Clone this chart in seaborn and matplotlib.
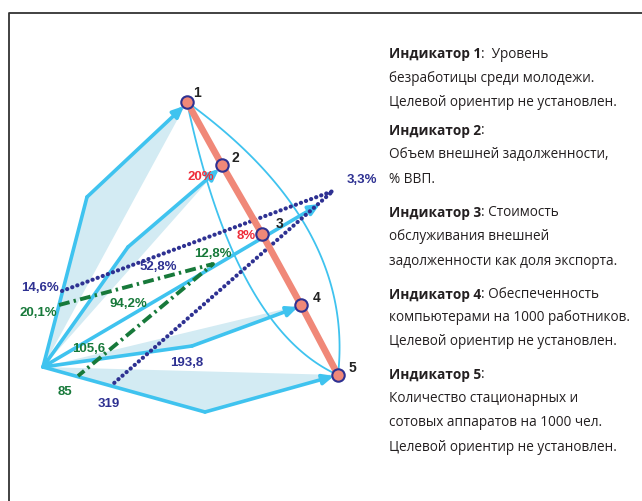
import numpy as np
import pandas as pd
import matplotlib
matplotlib.use("Agg")
import matplotlib.pyplot as plt
import seaborn as sns

# indicator points on the scheme (chart units, y grows downward)
ind_names = ["1", "2", "3", "4", "5"]
ind_x = [187, 222, 262, 301, 338]
ind_y = [103, 166, 235, 306, 376]
name_dx = [10, 13, 18, 16, 14]
name_dy = [-10, -8, -11, -8, -8]

# origin of the vectors and the bends of each vector
origin = (43, 368)
bend_x = [87, 128, None, 192, 205]
bend_y = [198, 248, None, 347, 413]
tip_x = [184, 219, 320, 298, 334]
tip_y = [107, 170, 205, 308, 377]

# dotted navy series and dash-dot green series
navy_x = [62, 333, 113]
navy_y = [292, 192, 385]
green_x = [59, 213, 78]
green_y = [306, 265, 377]

# value labels: text, x, y, colour key
val_text = ["20%", "8%", "3,3%", "52,8%", "12,8%", "14,6%", "20,1%",
            "94,2%", "105,6", "193,8", "85", "319"]
val_x = [201, 246, 362, 158, 213, 40, 38, 128, 89, 187, 65, 109]
val_y = [177, 236, 180, 267, 254, 288, 313, 304, 349, 363, 392, 404]
val_col = ["red", "red", "navy", "navy", "green", "navy", "green",
           "green", "green", "navy", "green", "navy"]

legend_lines = [
    ("Индикатор 1", ":  Уровень", 54),
    ("", "безработицы среди молодежи.", 78),
    ("", "Целевой ориентир не установлен.", 102),
    ("Индикатор 2", ":", 131),
    ("", "Объем внешней задолженности,", 155),
    ("", "% ВВП.", 180),
    ("Индикатор 3", ": Стоимость", 213),
    ("", "обслуживания внешней", 237),
    ("", "задолженности как доля экспорта.", 262),
    ("Индикатор 4", ": Обеспеченность", 295),
    ("", "компьютерами на 1000 работников.", 318),
    ("", "Целевой ориентир не установлен.", 342),
    ("Индикатор 5", ":", 375),
    ("", "Количество стационарных и", 399),
    ("", "сотовых аппаратов на 1000 чел.", 423),
    ("", "Целевой ориентир не установлен.", 448),
]

sns.set_theme(style="white")
plt.rcParams["font.family"] = ["Liberation Sans", "DejaVu Sans"]

BLUE = "#3fc3ef"
SHADE = "#d3ebf3"
SALMON = "#f08878"
NAVY = "#2e3192"
GREEN = "#17793a"
colours = {"red": "#ee2d3a", "navy": NAVY, "green": GREEN}

fig = plt.figure(figsize=(6.42, 5.02), dpi=100)
ax = fig.add_axes([0, 0, 1, 1])

# frame (only left and top visible)
ax.plot([8.5, 8.5, 642], [502, 13.5, 13.5], color="#333333", lw=1.3)

# shaded triangles under the bent vectors
for i in range(5):
    if bend_x[i] is None:
        continue
    ax.fill([origin[0], bend_x[i], ind_x[i]], [origin[1], bend_y[i], ind_y[i]],
            color=SHADE, lw=0, zorder=1)

# thin lens curves from 1 to 5 (quadratic Bezier)
t = np.linspace(0, 1, 100)
p1 = np.array([ind_x[0], ind_y[0]])
p5 = np.array([ind_x[4], ind_y[4]])
for ctrl in [(235, 330), (355, 225)]:
    c = np.array(ctrl)
    pts = np.outer((1 - t) ** 2, p1) + np.outer(2 * t * (1 - t), c) + np.outer(t ** 2, p5)
    ax.plot(pts[:, 0], pts[:, 1], color=BLUE, lw=1.3, zorder=2)

# vectors
for i in range(5):
    if bend_x[i] is None:
        start = origin
    else:
        ax.plot([origin[0], bend_x[i]], [origin[1], bend_y[i]], color=BLUE,
                lw=2.6, solid_capstyle="round", zorder=3)
        start = (bend_x[i], bend_y[i])
    ax.annotate("", xy=(tip_x[i], tip_y[i]), xytext=start,
                arrowprops=dict(arrowstyle="-|>,head_length=0.55,head_width=0.25",
                                color=BLUE, lw=2.6, shrinkA=0, shrinkB=0),
                zorder=3)

# navy dotted and green dash-dot series
ax.plot(navy_x, navy_y, color=NAVY, lw=3.0, linestyle=(0, (0.05, 1.25)),
        dash_capstyle="round", zorder=4)
ax.plot(green_x, green_y, color=GREEN, lw=2.8, linestyle=(0, (2.8, 1.1, 0.6, 1.1)),
        zorder=4)

# salmon line through the indicators
df = pd.DataFrame({"x": ind_x, "y": ind_y, "name": ind_names})
sns.lineplot(data=df, x="x", y="y", sort=False, color=SALMON, lw=4.8, ax=ax, zorder=5)
sns.scatterplot(data=df, x="x", y="y", s=80, color=SALMON, edgecolor=NAVY,
                linewidth=1.5, ax=ax, zorder=6)
ax.set_xlim(0, 642)
ax.set_ylim(502, 0)
ax.axis("off")

for name, x, y, dx, dy in zip(ind_names, ind_x, ind_y, name_dx, name_dy):
    ax.text(x + dx, y + dy, name, fontsize=10, fontweight="bold", color="#222222",
            ha="center", va="center", zorder=7)

for s, x, y, c in zip(val_text, val_x, val_y, val_col):
    ax.text(x, y, s, fontsize=9.5, fontweight="bold", color=colours[c],
            ha="center", va="center", zorder=7)

# legend text on the right
fig.canvas.draw()
renderer = fig.canvas.get_renderer()
inv = ax.transData.inverted()
for bold, rest, y in legend_lines:
    x = 389
    if bold:
        tb = ax.text(x, y, bold, fontsize=9.8, fontweight="bold", color="#231f20",
                     family=["Open Sans", "DejaVu Sans"], ha="left", va="center")
        bb = tb.get_window_extent(renderer)
        x = inv.transform((bb.x1, bb.y0))[0]
    ax.text(x, y, rest, fontsize=9.8, color="#231f20",
            family=["Open Sans", "DejaVu Sans"], ha="left", va="center")

fig.savefig("out.png", dpi=100)
